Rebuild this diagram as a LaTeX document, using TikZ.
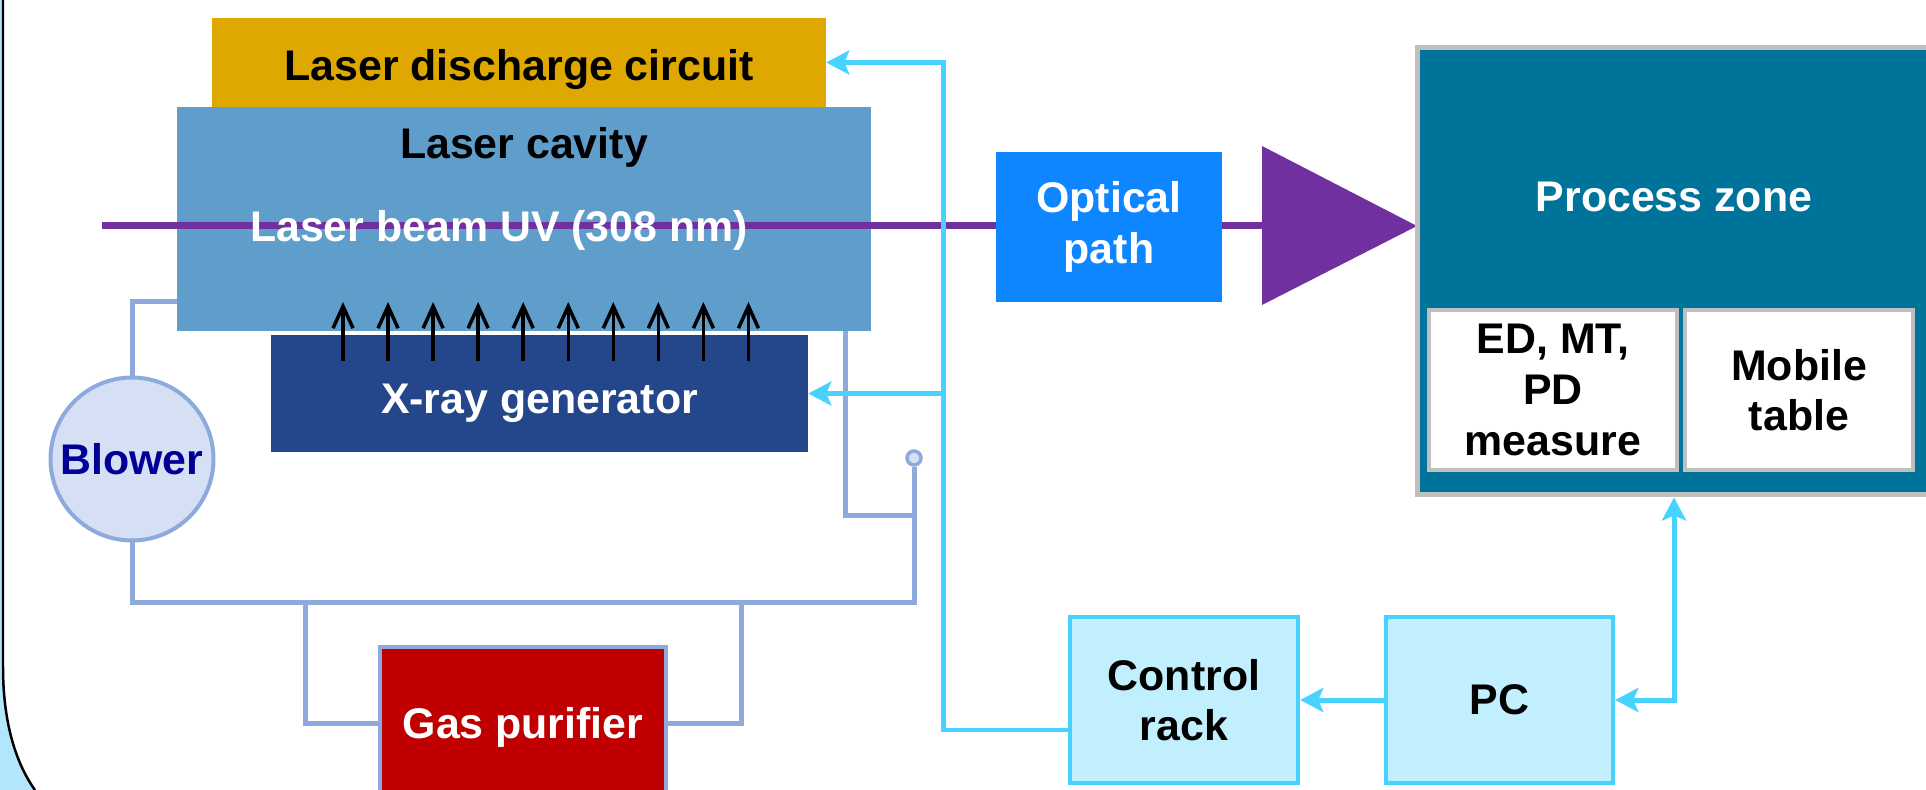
\documentclass[tikz,border=0pt]{standalone}
\usepackage{fontspec}
\setmainfont{Liberation Sans}
\usetikzlibrary{arrows.meta,positioning}
\definecolor{gold}{RGB}{222,168,0}
\definecolor{cavblue}{RGB}{95,157,202}
\definecolor{xnavy}{RGB}{35,71,138}
\definecolor{purp}{RGB}{112,48,160}
\definecolor{optblue}{RGB}{13,134,255}
\definecolor{teal}{RGB}{0,115,154}
\definecolor{frameg}{RGB}{191,191,191}
\definecolor{cyanln}{RGB}{71,210,255}
\definecolor{cyanfill}{RGB}{194,239,253}
\definecolor{pipeblue}{RGB}{142,169,219}
\definecolor{blowfill}{RGB}{214,224,244}
\definecolor{blowtxt}{RGB}{0,0,153}
\definecolor{gasred}{RGB}{192,0,0}
\definecolor{sky}{RGB}{179,229,252}
\newcommand\lbl{\fontsize{24.4}{28.8}\selectfont\bfseries}
\tikzset{
  >={Stealth[length=4.6mm,width=4.8mm,inset=1mm]},
  blk/.style={fill=#1,inner sep=0pt,align=center,font=\lbl},
  blk/.default=cavblue,
  txt/.style={inner sep=0pt,align=center,font=\lbl},
  low/.style={text height=#1,text depth=0pt},
  sub/.style={blk=white,draw=frameg,line width=0.8mm},
  ctl/.style={blk=cyanfill,draw=cyanln,line width=0.9mm,minimum height=3.32cm},
  link/.style={draw=cyanln,line width=1mm},
  pipe/.style={draw=pipeblue,line width=1mm},
  beam/.style={draw=purp,line width=1.4mm},
  xarr/.style={-{Straight Barb[length=4.4mm,width=4mm]},line width=0.7mm},
}

\begin{document}
\begin{tikzpicture}[x=0.02cm,y=-0.02cm]
  \useasboundingbox (0,0) rectangle (1926,790);
  % frame
  \fill[sky] (0,0) -- (3,0) -- (3,667) .. controls (3,725) and (17,765) .. (35,790) -- (0,790) -- cycle;
  \draw[line width=0.5mm] (3,0) -- (3,667) .. controls (3,725) and (17,765) .. (35,790);
  % laser unit
  \node[blk=gold,low=21pt,minimum width=12.28cm,minimum height=1.78cm] (disch) at (519,62.5) {Laser discharge circuit};
  \node[blk,minimum width=13.88cm,minimum height=4.48cm] (cavity) at (524,219) {};
  \node[blk=xnavy,low=23pt,text=white,minimum width=10.74cm,minimum height=2.34cm] (xray) at (539.5,393.5) {X-ray generator};
  \foreach \i in {0,...,9}
    \draw[xarr] (343+45.05*\i,361) -- ++(0,-59);
  \coordinate (bstart) at (102,226);
  \coordinate (tbase) at (1262,226);
  \draw[beam] (bstart) -- (tbase);
  \node[txt] (cavtxt) at (524,147) {Laser cavity};
  \node[txt,text=white] (beamtxt) at (499,230) {Laser beam UV (308 nm)};
  \node[blk=optblue,text=white,minimum width=4.52cm,minimum height=3cm] (optic) at (1109,227) {Optical\\path};
  \fill[purp] (1262,146) -- (1417,226) -- (1262,305) -- cycle;
  % gas loop
  \node[circle,blk=blowfill,draw=pipeblue,line width=0.8mm,text=blowtxt,minimum size=3.26cm] (blower) at (132,459) {Blower};
  \node[blk=gasred,low=17.3pt,draw=pipeblue,line width=0.8mm,text=white,minimum width=5.72cm,minimum height=3.04cm] (gas) at (523,723) {Gas purifier};
  \node[circle,fill=blowfill,draw=pipeblue,line width=0.7mm,inner sep=0pt,minimum size=0.28cm] (port) at (914,458) {};
  \coordinate (jn) at (914,602);
  \coordinate (tap) at (914,515);
  \coordinate (gl) at (305,602);
  \coordinate (gr) at (741,602);
  \draw[pipe] ([yshift=-16.6mm]cavity.west) -| (blower.north);
  \draw[pipe] (blower.south) |- (jn) -- (port.south);
  \draw[pipe] ([xshift=64.4mm]cavity.south) |- (tap);
  \draw[pipe] (gl) |- (gas.west);
  \draw[pipe] (gr) |- (gas.east);
  % process side
  \node[blk=teal,draw=frameg,line width=1mm,minimum width=10.66cm,minimum height=8.96cm] (pz) at (1683.5,271) {};
  \node[txt,text=white] (pztxt) at (1674,197) {Process zone};
  \node[sub,minimum width=4.96cm,minimum height=3.2cm] (meas) at (1553,390) {ED, MT,\\PD\\measure};
  \node[sub,minimum width=4.56cm,minimum height=3.2cm] (table) at (1799,390) {Mobile\\table};
  \node[ctl,minimum width=4.56cm] (ctrl) at (1184,700) {Control\\rack};
  \node[ctl,minimum width=4.54cm] (pc) at (1499.5,700) {PC};
  \coordinate (bus) at (943,393.5);
  \draw[link,->] ([yshift=-6mm]ctrl.west) -| (bus |- disch.east) -- (disch.east);
  \draw[link,->] (bus) -- (xray.east);
  \draw[link,->] (pc) -- (ctrl);
  \draw[link,<->] (pc.east) -| ([xshift=-1.9mm]pz.south);
\end{tikzpicture}
\end{document}
